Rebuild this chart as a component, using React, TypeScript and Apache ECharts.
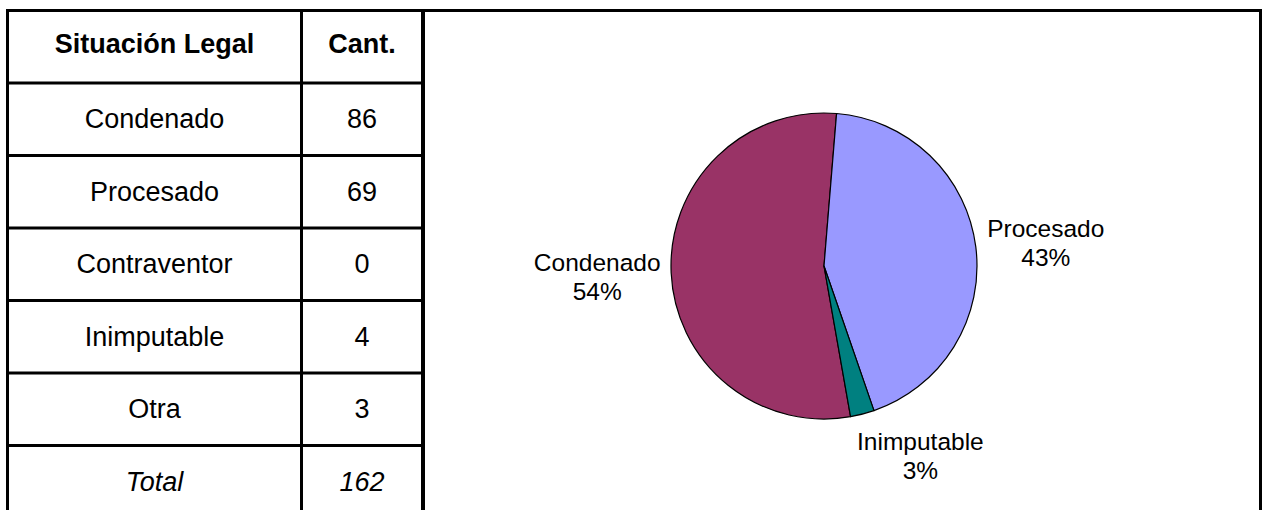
import React, { useEffect, useRef } from "react";
import * as echarts from "echarts";

// ---- data ----
const headerLabels = ["Situación Legal", "Cant."];
const categories = ["Condenado", "Procesado", "Contraventor", "Inimputable", "Otra"];
const counts = [86, 69, 0, 4, 3];
const totalLabel = "Total";
// categories that appear in the pie chart (Otra is not charted)
const pieCategories = ["Condenado", "Procesado", "Contraventor", "Inimputable"];

// ---- styles ----
const sliceColors: Record<string, string> = {
  Condenado: "#993366",
  Procesado: "#9999FF",
  Contraventor: "#FFFFCC",
  Inimputable: "#008080",
};
const labelNudge: Record<string, [number, number]> = {
  Condenado: [-4, 4],
  Procesado: [0, -4],
  Inimputable: [-12, 42],
};
const FONT = "'Liberation Sans', Arial, Helvetica, sans-serif";
const W = 1262;
const H = 510;

export default function App() {
  const ref = useRef<HTMLDivElement>(null);

  useEffect(() => {
    if (!ref.current) return;
    const chart = echarts.init(ref.current, undefined, { renderer: "svg" });

    const left = 6;
    const top = 9;
    const rowH = 72.5;
    const lw = 3;
    const colDiv = 300;
    const tableRight = 421;
    const col1X = (left + lw + colDiv) / 2;
    const col2X = (colDiv + lw + tableRight) / 2;

    const total = counts.reduce((a, b) => a + b, 0);
    const rows: { a: string; b: string; weight: string; style: string }[] = [
      { a: headerLabels[0], b: headerLabels[1], weight: "bold", style: "normal" },
      ...categories.map((c, i) => ({ a: c, b: String(counts[i]), weight: "normal", style: "normal" })),
      { a: totalLabel, b: String(total), weight: "normal", style: "italic" },
    ];

    const elements: any[] = [];
    const black = { fill: "#000" };
    // borders
    elements.push({ type: "rect", shape: { x: left, y: top, width: W - left, height: lw }, style: black, silent: true });
    elements.push({ type: "rect", shape: { x: left, y: top, width: lw, height: H - top }, style: black, silent: true });
    elements.push({ type: "rect", shape: { x: colDiv, y: top, width: lw, height: H - top }, style: black, silent: true });
    elements.push({ type: "rect", shape: { x: tableRight, y: top, width: 4, height: H - top }, style: black, silent: true });
    elements.push({ type: "rect", shape: { x: W - 3, y: top, width: 3, height: H - top }, style: black, silent: true });
    for (let i = 1; i < rows.length; i++) {
      elements.push({
        type: "rect",
        shape: { x: left, y: top + i * rowH, width: tableRight + 4 - left, height: lw },
        style: black,
        silent: true,
      });
    }
    rows.forEach((r, i) => {
      const cy = top + i * rowH + lw + (rowH - lw) / 2 + (i === 0 ? -3 : 0);
      [
        { x: col1X, t: r.a },
        { x: col2X, t: r.b },
      ].forEach((c) => {
        elements.push({
          type: "text",
          x: c.x,
          y: cy,
          silent: true,
          style: {
            text: c.t,
            align: "center",
            verticalAlign: "middle",
            fontSize: 27,
            fontFamily: FONT,
            fontWeight: r.weight,
            fontStyle: r.style,
            fill: "#000",
          },
        });
      });
    });

    const pieData = pieCategories
      .map((name) => ({ name, value: counts[categories.indexOf(name)] }))
      .filter((d) => d.value > 0)
      .map((d) => ({ ...d, itemStyle: { color: sliceColors[d.name] } }));

    chart.setOption({
      animation: false,
      backgroundColor: "#fff",
      graphic: { elements },
      series: [
        {
          type: "pie",
          center: [824, 266],
          radius: 153,
          startAngle: -80,
          clockwise: true,
          percentPrecision: 0,
          avoidLabelOverlap: false,
          silent: true,
          emphasis: { disabled: true },
          data: pieData,
          itemStyle: { borderColor: "#000", borderWidth: 1.2 },
          label: {
            show: true,
            position: "outside",
            formatter: "{a|{b}}\n{a|{d}%}",
            color: "#000",
            fontSize: 24.5,
            fontFamily: FONT,
            rich: {
              a: {
                width: 130,
                align: "center",
                fontSize: 24.5,
                lineHeight: 28.5,
                fontFamily: FONT,
                color: "#000",
              },
            },
          },
          labelLine: { show: false, length: 0, length2: 0 },
          labelLayout: (p: any) => {
            const n = pieData[p.dataIndex].name;
            const d = labelNudge[n] || [0, 0];
            return { dx: d[0], dy: d[1] };
          },
        },
      ],
    });

    return () => chart.dispose();
  }, []);

  return (
    <div
      ref={ref}
      style={{ position: "absolute", left: 0, top: 0, width: W, height: H, background: "#fff" }}
    />
  );
}
